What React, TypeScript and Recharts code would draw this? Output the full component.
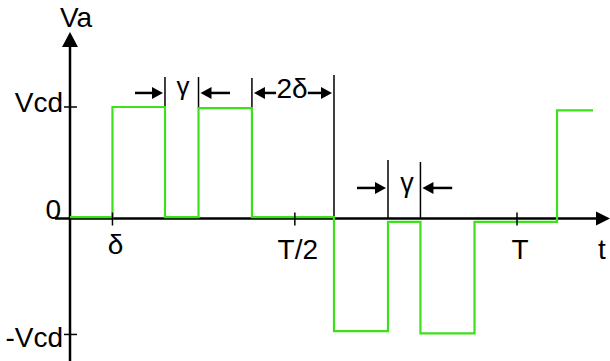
import {
  ComposedChart,
  Line,
  XAxis,
  YAxis,
  ReferenceLine,
  ReferenceDot,
} from "recharts";

// waveform corners: time in units of T, level in units of Vcd
const edgeTimes = [0, 0.095, 0.2125, 0.2875, 0.407, 0.5906, 0.7114, 0.784, 0.905, 1.0895, 1.17];
const levels = [0.013, 1.0, 0.013, 0.99, 0.013, -1.01, -0.03, -1.03, -0.03, 0.97, 0.97];

const xTickValues = [0.095, 0.503, 1.0];
const xTickLabels = ["δ", "T/2", "T"];
const yTickValues = [1, -1.04];
const yTickLabels = ["Vcd", "-Vcd"];

// vertical marker lines at the pulse edges
const markerTimes = [0.2125, 0.2875, 0.407, 0.5906, 0.7114, 0.784];
const markerBottoms = [1.0, 0.99, 0.99, 0, 0, 0];
const markerTops = [1.269, 1.269, 1.26, 1.287, 0.525, 0.507];

// dimension arrows (tip at "to")
const arrowFrom = [0.1454, 0.358, 0.461, 0.532, 0.642, 0.855];
const arrowTo = [0.2125, 0.2875, 0.407, 0.5906, 0.7114, 0.784];
const arrowLevel = [1.126, 1.126, 1.126, 1.126, 0.274, 0.274];

const dimLabels = ["γ", "2δ", "γ"];
const dimLabelTimes = [0.2528, 0.4966, 0.754];
const dimLabelLevels = [1.106, 1.081, 0.238];

const waveData = edgeTimes.map((t, i) => ({ t, v: levels[i] }));

const FONT = "'Liberation Sans', Arial, sans-serif";
const FS = 28;
const xLabelDy = [35, 40, 40];
const dimLabelSize = [26, 28, 27];

const xDomain: [number, number] = [-15 / 447, 540 / 447];
const yDomain: [number, number] = [186.5 / 111.5, -142.5 / 111.5];

const HAxis = (p: any) => {
  const xa = Math.min(p.x1, p.x2);
  const xb = Math.max(p.x1, p.x2);
  const y = p.y1;
  return (
    <g>
      <line x1={xa} y1={y} x2={xb - 12} y2={y} stroke="#000" strokeWidth={2.5} />
      <polygon points={`${xb},${y} ${xb - 14},${y - 7} ${xb - 14},${y + 7}`} fill="#000" />
    </g>
  );
};

const VAxis = (p: any) => {
  const ya = Math.min(p.y1, p.y2);
  const yb = Math.max(p.y1, p.y2);
  const x = p.x1;
  return (
    <g>
      <line x1={x} y1={ya + 12} x2={x} y2={yb} stroke="#000" strokeWidth={2.5} />
      <polygon points={`${x},${ya} ${x - 8},${ya + 15} ${x + 8},${ya + 15}`} fill="#000" />
    </g>
  );
};

const Arrow = (p: any) => {
  const dir = p.x2 > p.x1 ? 1 : -1;
  const tip = p.x2 - dir * 2;
  const y = p.y1;
  return (
    <g>
      <line x1={p.x1} y1={y} x2={tip - dir * 6} y2={y} stroke="#000" strokeWidth={2.5} />
      <polygon
        points={`${tip},${y} ${tip - dir * 11},${y - 6} ${tip - dir * 11},${y + 6}`}
        fill="#000"
      />
    </g>
  );
};

const xTickMark = (p: any) => (
  <line x1={p.cx} y1={p.cy - 6} x2={p.cx} y2={p.cy + 7} stroke="#000" strokeWidth={1.5} />
);
const yTickMark = (p: any) => (
  <line x1={p.cx - 6} y1={p.cy} x2={p.cx + 7} y2={p.cy} stroke="#000" strokeWidth={1.5} />
);

const textAt =
  (text: string, anchor: "start" | "middle" | "end", dx: number, dy: number, size = FS) =>
  (p: any) => (
    <text
      x={p.cx + dx}
      y={p.cy + dy}
      textAnchor={anchor}
      fontFamily={FONT}
      fontSize={size}
      fill="#000"
    >
      {text}
    </text>
  );

export default function App() {
  return (
    <div style={{ position: "absolute", left: 0, top: 0, background: "#fff" }}>
      <ComposedChart
        width={610}
        height={361}
        data={waveData}
        margin={{ top: 32, right: 0, bottom: 0, left: 55 }}
        style={{ overflow: "visible" }}
      >
        <XAxis dataKey="t" type="number" domain={xDomain} allowDataOverflow hide />
        <YAxis type="number" domain={[yDomain[1], yDomain[0]]} allowDataOverflow hide />

        <ReferenceLine y={0} shape={HAxis} ifOverflow="visible" />
        <ReferenceLine x={0} shape={VAxis} ifOverflow="visible" />

        {xTickValues.map((v) => (
          <ReferenceDot key={"xt" + v} x={v} y={0} r={0} shape={xTickMark} ifOverflow="visible" />
        ))}
        {yTickValues.map((v) => (
          <ReferenceDot key={"yt" + v} x={0} y={v} r={0} shape={yTickMark} ifOverflow="visible" />
        ))}
        {xTickValues.map((v, i) => (
          <ReferenceDot
            key={"xl" + v}
            x={v}
            y={0}
            r={0}
            shape={textAt(xTickLabels[i], "middle", 3, xLabelDy[i])}
            ifOverflow="visible"
          />
        ))}
        {yTickValues.map((v, i) => (
          <ReferenceDot
            key={"yl" + v}
            x={0}
            y={v}
            r={0}
            shape={textAt(yTickLabels[i], "end", -7, i === 0 ? 5 : 13)}
            ifOverflow="visible"
          />
        ))}
        <ReferenceDot x={0} y={0} r={0} shape={textAt("0", "end", -9, 0)} ifOverflow="visible" />
        <ReferenceDot x={0} y={yDomain[0]} r={0} shape={textAt("Va", "start", -10, -5)} ifOverflow="visible" />
        <ReferenceDot x={xDomain[1]} y={0} r={0} shape={textAt("t", "middle", -8, 40)} ifOverflow="visible" />

        {markerTimes.map((t, i) => (
          <ReferenceLine
            key={"m" + i}
            segment={[
              { x: t, y: markerBottoms[i] },
              { x: t, y: markerTops[i] },
            ]}
            stroke="#000"
            strokeWidth={1.5}
            ifOverflow="visible"
          />
        ))}
        {arrowFrom.map((f, i) => (
          <ReferenceLine
            key={"a" + i}
            segment={[
              { x: f, y: arrowLevel[i] },
              { x: arrowTo[i], y: arrowLevel[i] },
            ]}
            shape={Arrow}
            ifOverflow="visible"
          />
        ))}
        {dimLabels.map((s, i) => (
          <ReferenceDot
            key={"d" + i}
            x={dimLabelTimes[i]}
            y={dimLabelLevels[i]}
            r={0}
            shape={textAt(s, "middle", 0, 0, dimLabelSize[i])}
            ifOverflow="visible"
          />
        ))}

        <Line
          type="stepAfter"
          dataKey="v"
          stroke="#3de01c"
          strokeWidth={2.2}
          dot={false}
          activeDot={false}
          isAnimationActive={false}
        />
      </ComposedChart>
    </div>
  );
}
